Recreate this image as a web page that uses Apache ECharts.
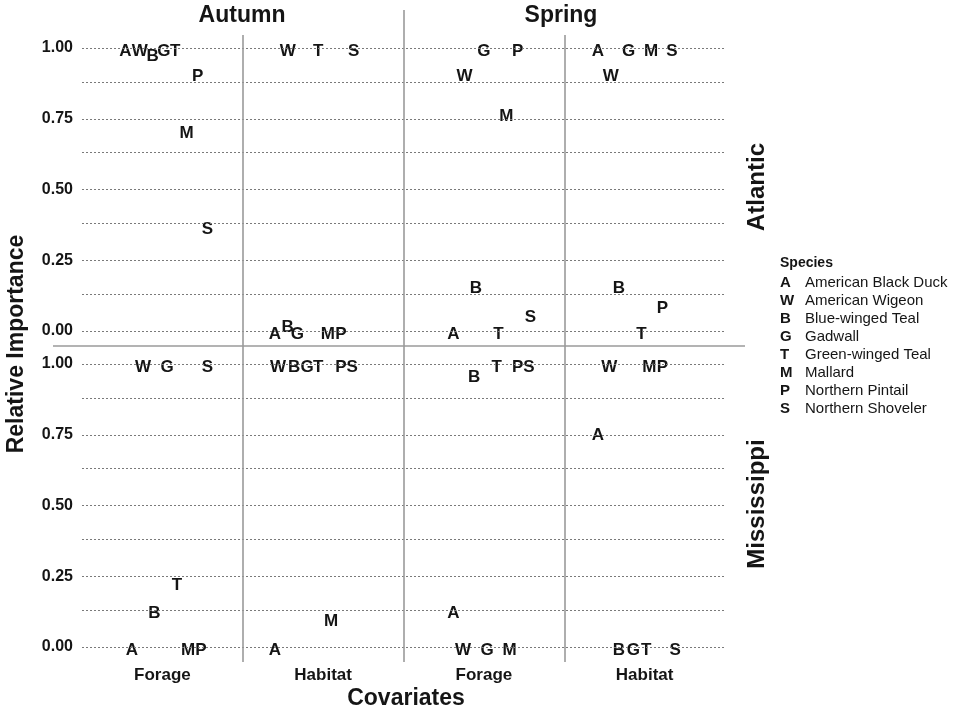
<!DOCTYPE html>
<html>
<head>
    <meta charset="utf-8">
    <title>Relative Importance</title>
    <script src="https://cdn.jsdelivr.net/npm/echarts@6/dist/echarts.min.js"></script>
    <style>
        html, body { margin: 0; padding: 0; background: #fff; }
        #main { width: 959px; height: 711px; }
    </style>
</head>
<body>
<div id="main"></div>
<script>
    // data: [species code, position inside the covariate band, relative importance]
    var speciesCodes = ['A', 'W', 'B', 'G', 'T', 'M', 'P', 'S'];
    var speciesNames = ['American Black Duck', 'American Wigeon', 'Blue-winged Teal', 'Gadwall',
        'Green-winged Teal', 'Mallard', 'Northern Pintail', 'Northern Shoveler'];
    var covariates = ['Forage', 'Habitat', 'Forage', 'Habitat'];
    var seasons = ['Autumn', 'Spring'];
    var flyways = ['Atlantic', 'Mississippi'];
    var yTicks = [0, 0.25, 0.5, 0.75, 1];
    var yGrid = [0, 0.125, 0.25, 0.375, 0.5, 0.625, 0.75, 0.875, 1];

    var atlAutForage = [['A', 0.27, 1], ['W', 0.36, 1], ['B', 0.44, 0.98], ['G', 0.51, 1],
        ['T', 0.58, 1], ['M', 0.65, 0.71], ['P', 0.72, 0.91], ['S', 0.78, 0.37]];
    var atlAutHabitat = [['A', 0.20, 0], ['W', 0.28, 1], ['B', 0.28, 0.025], ['G', 0.34, 0],
        ['T', 0.47, 1], ['M', 0.53, 0], ['P', 0.61, 0], ['S', 0.69, 1]];
    var atlSprForage = [['A', 0.31, 0], ['W', 0.38, 0.91], ['B', 0.45, 0.16], ['G', 0.50, 1],
        ['T', 0.59, 0], ['M', 0.64, 0.77], ['P', 0.71, 1], ['S', 0.79, 0.06]];
    var atlSprHabitat = [['A', 0.21, 1], ['W', 0.29, 0.91], ['B', 0.34, 0.16], ['G', 0.40, 1],
        ['T', 0.48, 0], ['M', 0.54, 1], ['P', 0.61, 0.09], ['S', 0.67, 1]];
    var misAutForage = [['A', 0.31, 0], ['W', 0.38, 1], ['B', 0.45, 0.13], ['G', 0.53, 1],
        ['T', 0.59, 0.23], ['M', 0.66, 0], ['P', 0.74, 0], ['S', 0.78, 1]];
    var misAutHabitat = [['A', 0.20, 0], ['W', 0.22, 1], ['B', 0.32, 1], ['G', 0.40, 1],
        ['T', 0.47, 1], ['M', 0.55, 0.10], ['P', 0.61, 1], ['S', 0.68, 1]];
    var misSprForage = [['A', 0.31, 0.13], ['W', 0.37, 0], ['B', 0.44, 0.965], ['G', 0.52, 0],
        ['T', 0.58, 1], ['M', 0.66, 0], ['P', 0.71, 1], ['S', 0.78, 1]];
    var misSprHabitat = [['A', 0.21, 0.76], ['W', 0.28, 1], ['B', 0.34, 0], ['G', 0.43, 0],
        ['T', 0.51, 0], ['M', 0.53, 1], ['P', 0.61, 1], ['S', 0.69, 0]];

    var panels = [
        [atlAutForage, atlAutHabitat, atlSprForage, atlSprHabitat],
        [misAutForage, misAutHabitat, misSprForage, misSprHabitat]
    ];

    // layout (pixels)
    var FONT = 'Liberation Sans, Arial, sans-serif';
    var INK = '#151515';
    var plotLeft = 82, plotRight = 725;
    var rows = [
        {top: 10, bottom: 346, y1: 48, y0: 331, divTop: 35},
        {top: 346, bottom: 662, y1: 364, y0: 647, divTop: 346}
    ];
    rows.forEach(function (r) {
        var k = r.y0 - r.y1;
        r.min = -(r.bottom - r.y0) / k;
        r.max = 1 + (r.y1 - r.top) / k;
        r.divMax = 1 + (r.y1 - r.divTop) / k;
    });

    var grid = [], xAxis = [], yAxis = [], series = [];

    rows.forEach(function (r, ri) {
        grid.push({left: plotLeft, width: plotRight - plotLeft, top: r.top, height: r.bottom - r.top});
        xAxis.push({type: 'value', gridIndex: ri, min: 0, max: 4, show: false});
        yAxis.push({
            type: 'value', gridIndex: ri, min: r.min, max: r.max,
            axisLine: {show: false}, axisTick: {show: false}, splitLine: {show: false},
            axisLabel: {
                customValues: yTicks,
                formatter: function (v) { return v.toFixed(2); },
                margin: 9, fontFamily: FONT, fontWeight: 'bold', fontSize: 16, color: INK
            }
        });

        // gridlines and panel dividers
        var lines = yGrid.map(function (v) {
            return {yAxis: v, lineStyle: {type: [2, 2], color: '#7a7a7a', width: 1}};
        });
        [1, 2, 3].forEach(function (x) {
            var top = (ri === 0 && x === 2) ? r.max : r.divMax;
            lines.push([
                {coord: [x, top], lineStyle: {type: 'solid', color: '#9a9a9a', width: 1.6}},
                {coord: [x, r.min]}
            ]);
        });
        series.push({
            type: 'scatter', xAxisIndex: ri, yAxisIndex: ri, data: [], silent: true,
            markLine: {silent: true, symbol: ['none', 'none'], label: {show: false}, animation: false, data: lines}
        });

        speciesCodes.forEach(function (code, si) {
            var pts = [];
            panels[ri].forEach(function (panel, band) {
                panel.forEach(function (d) {
                    if (d[0] === code) pts.push([band + d[1], d[2]]);
                });
            });
            series.push({
                name: speciesNames[si],
                type: 'scatter',
                xAxisIndex: ri, yAxisIndex: ri,
                symbolSize: 1,
                itemStyle: {color: 'rgba(0,0,0,0)', opacity: 1},
                label: {
                    show: true, position: 'inside', formatter: code, offset: [0, 3], opacity: 1,
                    fontFamily: FONT, fontWeight: 'bold', fontSize: 17, color: INK
                },
                emphasis: {disabled: true},
                data: pts
            });
        });
    });

    // covariate labels under the bottom row
    xAxis.push({
        type: 'category', gridIndex: 1, position: 'bottom', data: covariates,
        axisLine: {show: false}, axisTick: {show: false},
        axisLabel: {margin: 5, fontFamily: FONT, fontWeight: 'bold', fontSize: 17, color: INK}
    });

    var legendLetter = {};
    speciesNames.forEach(function (n, i) { legendLetter[n] = speciesCodes[i]; });

    var chart = echarts.init(document.getElementById('main'));
    chart.setOption({
        animation: false,
        title: [
            {text: seasons[0], left: 242, top: 4, textAlign: 'center', padding: 0,
                textStyle: {fontFamily: FONT, fontWeight: 'bold', fontSize: 23, color: INK}},
            {text: seasons[1], left: 561, top: 4, textAlign: 'center', padding: 0,
                textStyle: {fontFamily: FONT, fontWeight: 'bold', fontSize: 23, color: INK}},
            {text: 'Covariates', left: 406, top: 687, textAlign: 'center', padding: 0,
                textStyle: {fontFamily: FONT, fontWeight: 'bold', fontSize: 23, color: INK}},
            {text: 'Species', left: 780, top: 256, padding: 0,
                textStyle: {fontFamily: FONT, fontWeight: 'bold', fontSize: 14, color: INK}}
        ],
        legend: {
            orient: 'vertical', left: 775, top: 274, padding: 0,
            icon: 'none', itemWidth: 0, itemHeight: 0, itemGap: 0,
            selectedMode: false,
            data: speciesNames,
            formatter: function (name) { return '{l|' + legendLetter[name] + '}{n|' + name + '}'; },
            textStyle: {
                color: INK, fontFamily: FONT, lineHeight: 18,
                rich: {
                    l: {fontWeight: 'bold', fontSize: 15, width: 25, color: INK, fontFamily: FONT, lineHeight: 18},
                    n: {fontSize: 15, color: INK, fontFamily: FONT, lineHeight: 18}
                }
            }
        },
        graphic: [
            {type: 'line', shape: {x1: 53, y1: 346, x2: 745, y2: 346}, style: {stroke: '#9a9a9a', lineWidth: 1.6}},
            {type: 'text', x: 17, y: 344, rotation: Math.PI / 2,
                style: {text: 'Relative Importance', fill: INK, font: 'bold 23px ' + FONT, textAlign: 'center', textVerticalAlign: 'middle'}},
            {type: 'text', x: 757, y: 187, rotation: Math.PI / 2,
                style: {text: flyways[0], fill: INK, font: 'bold 24px ' + FONT, textAlign: 'center', textVerticalAlign: 'middle'}},
            {type: 'text', x: 757, y: 504, rotation: Math.PI / 2,
                style: {text: flyways[1], fill: INK, font: 'bold 24px ' + FONT, textAlign: 'center', textVerticalAlign: 'middle'}}
        ],
        grid: grid,
        xAxis: xAxis,
        yAxis: yAxis,
        series: series
    });
</script>
</body>
</html>
